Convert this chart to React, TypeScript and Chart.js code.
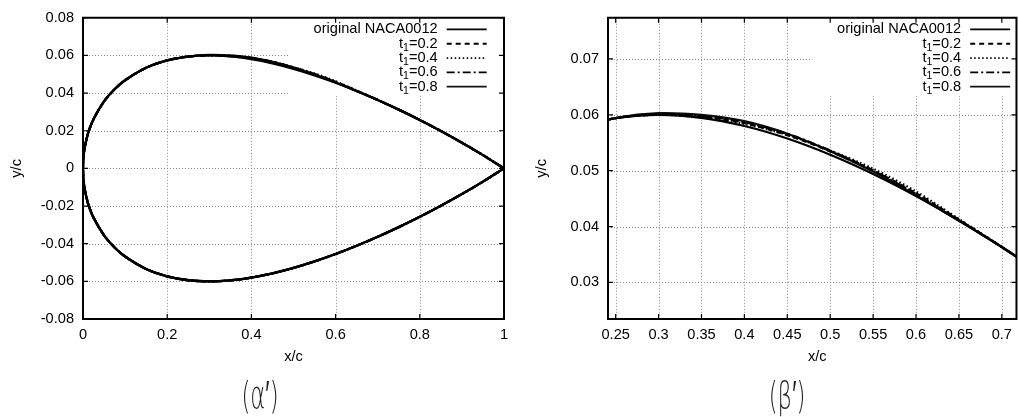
import React, { useEffect, useRef } from "react";
import { Chart, registerables } from "chart.js";

Chart.register(...registerables);

// Chord stations (x/c) shared by every surface array below.
const stationsX = [
  0, 0.0005, 0.001, 0.0025, 0.005, 0.0125, 0.025, 0.05, 0.075, 0.1, 0.15, 0.2, 0.25,
  0.3, 0.35, 0.4, 0.45, 0.5, 0.55, 0.6, 0.65, 0.7, 0.75, 0.8, 0.85, 0.9, 0.95, 1,
];

// Original NACA0012 upper and lower surfaces (y/c).
const upperOriginal = [
  0, 0.00395, 0.00556, 0.00872, 0.01221, 0.01894, 0.02615, 0.03555, 0.042, 0.04683, 0.05345, 0.05737, 0.05941,
  0.06001, 0.05947, 0.058, 0.05576, 0.05286, 0.04941, 0.04547, 0.0411, 0.03634, 0.0312, 0.02572, 0.01987, 0.01365, 0.00704, 0,
];
const lowerOriginal = [
  0, -0.00395, -0.00556, -0.00872, -0.01221, -0.01894, -0.02615, -0.03555, -0.042, -0.04683, -0.05345, -0.05737, -0.05941,
  -0.06001, -0.05947, -0.058, -0.05576, -0.05286, -0.04941, -0.04547, -0.0411, -0.03634, -0.0312, -0.02572, -0.01987, -0.01365, -0.00704, 0,
];

// Modified upper surfaces for each t1 value.
const upperT02 = [
  0, 0.00395, 0.00556, 0.00872, 0.01221, 0.01894, 0.02615, 0.03555, 0.042, 0.04683, 0.05345, 0.05737, 0.05941,
  0.06001, 0.05967, 0.0585, 0.05636, 0.05346, 0.05001, 0.04597, 0.04125, 0.03634, 0.0312, 0.02572, 0.01987, 0.01365, 0.00704, 0,
];
const upperT04 = [
  0, 0.00395, 0.00556, 0.00872, 0.01221, 0.01894, 0.02615, 0.03555, 0.042, 0.04683, 0.05345, 0.05737, 0.05941,
  0.06001, 0.05952, 0.05835, 0.05641, 0.05361, 0.05036, 0.04627, 0.04135, 0.03636, 0.0312, 0.02572, 0.01987, 0.01365, 0.00704, 0,
];
const upperT06 = [
  0, 0.00395, 0.00556, 0.00872, 0.01221, 0.01894, 0.02615, 0.03555, 0.042, 0.04683, 0.05345, 0.05737, 0.05941,
  0.06011, 0.05977, 0.0587, 0.05661, 0.05361, 0.05006, 0.04582, 0.04112, 0.03634, 0.0312, 0.02572, 0.01987, 0.01365, 0.00704, 0,
];
const upperT08 = [
  0, 0.00395, 0.00556, 0.00872, 0.01221, 0.01894, 0.02615, 0.03555, 0.042, 0.04683, 0.05345, 0.05737, 0.05941,
  0.06028, 0.05997, 0.05885, 0.05661, 0.05351, 0.04986, 0.04562, 0.04104, 0.03632, 0.0312, 0.02572, 0.01987, 0.01365, 0.00704, 0,
];

const seriesLabels = ["original NACA0012", "t₁=0.2", "t₁=0.4", "t₁=0.6", "t₁=0.8"];
const seriesUpper = [upperOriginal, upperT02, upperT04, upperT06, upperT08];

// Axis ticks: full section view
const fullXTicks = [0, 0.2, 0.4, 0.6, 0.8, 1];
const fullXTickLabels = ["0", "0.2", "0.4", "0.6", "0.8", "1"];
const fullYTicks = [-0.08, -0.06, -0.04, -0.02, 0, 0.02, 0.04, 0.06, 0.08];
const fullYTickLabels = ["-0.08", "-0.06", "-0.04", "-0.02", "0", "0.02", "0.04", "0.06", "0.08"];

// Axis ticks: close-up of the upper surface
const zoomXTicks = [0.25, 0.3, 0.35, 0.4, 0.45, 0.5, 0.55, 0.6, 0.65, 0.7];
const zoomXTickLabels = ["0.25", "0.3", "0.35", "0.4", "0.45", "0.5", "0.55", "0.6", "0.65", "0.7"];
const zoomYTicks = [0.03, 0.04, 0.05, 0.06, 0.07];
const zoomYTickLabels = ["0.03", "0.04", "0.05", "0.06", "0.07"];

const FONT = "'Liberation Sans', Arial, Helvetica, sans-serif";
const FS = 14.6;

const lineStyles = [
  { dash: [] as number[], color: "#000" },
  { dash: [5, 4], color: "#000" },
  { dash: [1.5, 2.5], color: "#000" },
  { dash: [8, 3, 2, 3], color: "#000" },
  { dash: [] as number[], color: "#111" },
];

type PanelCfg = {
  closed: boolean;
  xTicks: number[];
  xTickLabels: string[];
  yTicks: number[];
  yTickLabels: string[];
  xMin: number;
  xMax: number;
  yMin: number;
  yMax: number;
  width: number;
  height: number;
  yAxisWidth: number;
  padRight: number;
  xTitleDx: number;
  legendSampleInset: number;
};

function outlinePoints(upper: number[], lower: number[]) {
  const pts: { x: number; y: number }[] = [];
  for (let i = stationsX.length - 1; i >= 0; i--) pts.push({ x: stationsX[i], y: upper[i] });
  for (let i = 1; i < stationsX.length; i++) pts.push({ x: stationsX[i], y: lower[i] });
  return pts;
}

function surfacePoints(upper: number[]) {
  return stationsX.map((x, i) => ({ x, y: upper[i] }));
}

function drawLegendLabel(ctx: CanvasRenderingContext2D, label: string, right: number, cy: number) {
  const parts = label.split("₁");
  ctx.textBaseline = "middle";
  ctx.textAlign = "left";
  const big = `${FS}px ${FONT}`;
  const small = `10.5px ${FONT}`;
  if (parts.length === 1) {
    ctx.font = big;
    const w = ctx.measureText(label).width;
    ctx.fillText(label, right - w, cy);
    return;
  }
  ctx.font = big;
  const w1 = ctx.measureText(parts[0]).width;
  const w3 = ctx.measureText(parts[1]).width;
  ctx.font = small;
  const w2 = ctx.measureText("1").width;
  let x = right - (w1 + w2 + w3);
  ctx.font = big;
  ctx.fillText(parts[0], x, cy);
  x += w1;
  ctx.font = small;
  ctx.fillText("1", x, cy + 4);
  x += w2;
  ctx.font = big;
  ctx.fillText(parts[1], x, cy);
}

function makeFramePlugin(cfg: PanelCfg) {
  return {
    id: "frame",
    beforeDatasetsDraw(chart: any) {
      const { ctx, chartArea: a, scales } = chart;
      ctx.save();
      // dotted grid
      ctx.strokeStyle = "#8a8a8a";
      ctx.lineWidth = 1;
      ctx.setLineDash([1, 2]);
      for (const v of cfg.xTicks) {
        const px = Math.round(scales.x.getPixelForValue(v)) + 0.5;
        if (px <= a.left + 2 || px >= a.right - 2) continue;
        ctx.beginPath();
        ctx.moveTo(px, a.top);
        ctx.lineTo(px, a.bottom);
        ctx.stroke();
      }
      for (const v of cfg.yTicks) {
        const py = Math.round(scales.y.getPixelForValue(v)) + 0.5;
        if (py <= a.top + 2 || py >= a.bottom - 2) continue;
        ctx.beginPath();
        ctx.moveTo(a.left, py);
        ctx.lineTo(a.right, py);
        ctx.stroke();
      }
      ctx.setLineDash([]);
      // opaque key box
      const sampleEnd = a.right - cfg.legendSampleInset;
      const textRight = sampleEnd - 49;
      const boxLeft = textRight - 149;
      ctx.fillStyle = "#fff";
      ctx.fillRect(boxLeft, a.top, a.right - boxLeft, 78);
      ctx.restore();
    },
    afterDatasetsDraw(chart: any) {
      const { ctx, chartArea: a, scales } = chart;
      ctx.save();
      // border
      ctx.strokeStyle = "#000";
      ctx.lineWidth = 2;
      ctx.setLineDash([]);
      ctx.strokeRect(a.left, a.top, a.right - a.left, a.bottom - a.top);
      // inward tick marks on all four sides
      ctx.lineWidth = 1.2;
      const tl = 5;
      for (const v of cfg.xTicks) {
        const px = scales.x.getPixelForValue(v);
        ctx.beginPath();
        ctx.moveTo(px, a.bottom);
        ctx.lineTo(px, a.bottom - tl);
        ctx.moveTo(px, a.top);
        ctx.lineTo(px, a.top + tl);
        ctx.stroke();
      }
      for (const v of cfg.yTicks) {
        const py = scales.y.getPixelForValue(v);
        ctx.beginPath();
        ctx.moveTo(a.left, py);
        ctx.lineTo(a.left + tl, py);
        ctx.moveTo(a.right, py);
        ctx.lineTo(a.right - tl, py);
        ctx.stroke();
      }
      // axis titles
      ctx.fillStyle = "#000";
      ctx.font = `${FS}px ${FONT}`;
      ctx.textAlign = "center";
      ctx.textBaseline = "middle";
      ctx.fillText("x/c", (a.left + a.right) / 2 + cfg.xTitleDx, a.bottom + 38);
      ctx.save();
      ctx.translate(a.left - 66, (a.top + a.bottom) / 2);
      ctx.rotate(-Math.PI / 2);
      ctx.fillText("y/c", 0, 0);
      ctx.restore();
      // key
      const sampleEnd = a.right - cfg.legendSampleInset;
      const sampleStart = sampleEnd - 40;
      const textRight = sampleStart - 9;
      chart.data.datasets.forEach((ds: any, i: number) => {
        const cy = a.top + 11.7 + i * 14.3;
        ctx.fillStyle = "#000";
        drawLegendLabel(ctx, ds.label, textRight, cy);
        ctx.strokeStyle = ds.borderColor;
        ctx.lineWidth = 1.8;
        ctx.setLineDash(ds.borderDash || []);
        ctx.beginPath();
        ctx.moveTo(sampleStart, cy);
        ctx.lineTo(sampleEnd, cy);
        ctx.stroke();
        ctx.setLineDash([]);
      });
      ctx.restore();
    },
  };
}

function Panel({ cfg, style }: { cfg: PanelCfg; style: React.CSSProperties }) {
  const ref = useRef<HTMLCanvasElement | null>(null);
  useEffect(() => {
    if (!ref.current) return;
    const datasets = seriesUpper.map((upper, i) => ({
      label: seriesLabels[i],
      data: cfg.closed ? outlinePoints(upper, lowerOriginal) : surfacePoints(upper),
      borderColor: lineStyles[i].color,
      borderDash: lineStyles[i].dash,
      borderWidth: 2.3,
      pointRadius: 0,
      tension: 0.3,
      fill: false,
    }));
    const chart = new Chart(ref.current, {
      type: "line",
      data: { datasets },
      plugins: [makeFramePlugin(cfg)],
      options: {
        animation: false,
        responsive: false,
        devicePixelRatio: 1,
        events: [],
        layout: { padding: { top: 14, right: cfg.padRight, left: 0, bottom: 0 } },
        plugins: { legend: { display: false }, tooltip: { enabled: false } },
        scales: {
          x: {
            type: "linear",
            min: cfg.xMin,
            max: cfg.xMax,
            grid: { display: false, drawTicks: false },
            border: { display: false },
            afterBuildTicks: (s: any) => {
              s.ticks = cfg.xTicks.map((v) => ({ value: v }));
            },
            afterFit: (s: any) => {
              s.height = cfg.height - 319;
            },
            ticks: {
              autoSkip: false,
              maxRotation: 0,
              padding: 7,
              color: "#000",
              font: { family: FONT, size: FS },
              callback: (_v: any, i: number) => cfg.xTickLabels[i],
            },
          },
          y: {
            type: "linear",
            min: cfg.yMin,
            max: cfg.yMax,
            grid: { display: false, drawTicks: false },
            border: { display: false },
            afterBuildTicks: (s: any) => {
              s.ticks = cfg.yTicks.map((v) => ({ value: v }));
            },
            afterFit: (s: any) => {
              s.width = cfg.yAxisWidth;
            },
            ticks: {
              autoSkip: false,
              padding: 9,
              color: "#000",
              font: { family: FONT, size: FS },
              callback: (_v: any, i: number) => cfg.yTickLabels[i],
            },
          },
        },
      },
    });
    return () => chart.destroy();
  }, [cfg]);
  return (
    <canvas
      ref={ref}
      width={cfg.width}
      height={cfg.height}
      style={{ position: "absolute", display: "block", width: cfg.width, height: cfg.height, ...style }}
    />
  );
}

const fullCfg: PanelCfg = {
  closed: true,
  xTicks: fullXTicks,
  xTickLabels: fullXTickLabels,
  yTicks: fullYTicks,
  yTickLabels: fullYTickLabels,
  xMin: 0,
  xMax: 1,
  yMin: -0.08,
  yMax: 0.08,
  width: 520,
  height: 370,
  yAxisWidth: 83,
  padRight: 16,
  xTitleDx: 0,
  legendSampleInset: 17.3,
};

const zoomCfg: PanelCfg = {
  closed: false,
  xTicks: zoomXTicks,
  xTickLabels: zoomXTickLabels,
  yTicks: zoomYTicks,
  yTickLabels: zoomYTickLabels,
  xMin: 0.24106,
  xMax: 0.71707,
  yMin: 0.02346,
  yMax: 0.07737,
  width: 499,
  height: 370,
  yAxisWidth: 88,
  padRight: 1,
  xTitleDx: 5,
  legendSampleInset: 6.3,
};

const captionStyle: React.CSSProperties = {
  position: "absolute",
  top: 376,
  width: 200,
  height: 38,
  textAlign: "center",
  fontFamily: "'DejaVu Sans', sans-serif",
  fontWeight: 200,
  fontSize: 38,
  lineHeight: "38px",
  color: "#222",
  transform: "scaleX(0.6)",
  transformOrigin: "center",
  filter: "grayscale(1)",
};

export default function App() {
  return (
    <div
      style={{
        position: "fixed",
        left: 0,
        top: 0,
        width: 1019,
        height: 417,
        background: "#fff",
        overflow: "hidden",
      }}
    >
      <Panel cfg={fullCfg} style={{ left: 0, top: 0 }} />
      <Panel cfg={zoomCfg} style={{ left: 520, top: 0 }} />
      <div style={{ ...captionStyle, left: 160 }}>(α′)</div>
      <div style={{ ...captionStyle, left: 687 }}>(β′)</div>
    </div>
  );
}
